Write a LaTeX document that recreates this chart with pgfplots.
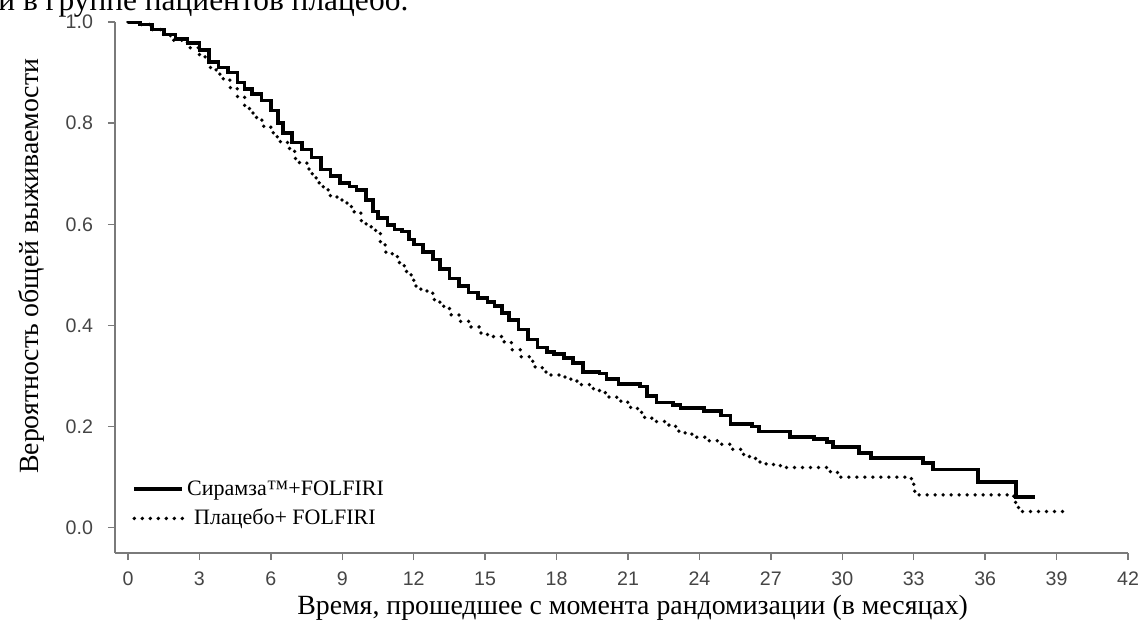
\documentclass[border=0pt]{standalone}
\usepackage{fontspec}
\setmainfont{Liberation Serif}
\setsansfont{Liberation Sans}
\usepackage{pgfplots}
\pgfplotsset{compat=1.18}

\definecolor{axisgray}{HTML}{7A7A7A}
\definecolor{ticktext}{HTML}{454545}

\begin{document}
\begin{tikzpicture}[x=1pt,y=1pt]
\useasboundingbox (0,0) rectangle (571.5,316.5);
% last line of the running text above the figure
\node[anchor=base west, inner sep=0pt, font=\fontsize{15.7}{17}\selectfont] at (-1,311) {и в группе пациентов плацебо.};
\begin{axis}[
  at={(57.5pt,40pt)}, anchor=south west,
  scale only axis, width=506.5pt, height=265.5pt,
  xmin=-0.546, xmax=42, ymin=-0.05, ymax=1,
  axis x line*=bottom, axis y line*=left,
  axis line style={draw=axisgray, line width=0.8pt},
  xtick={0,3,6,9,12,15,18,21,24,27,30,33,36,39,42},
  xticklabels={0,3,6,9,12,15,18,21,24,27,30,33,36,39,42},
  ytick={0,0.2,0.4,0.6,0.8,1.0},
  yticklabels={0.0,0.2,0.4,0.6,0.8,1.0},
  tick align=outside, major tick length=3.5pt,
  tick style={draw=axisgray, line width=0.7pt},
  ticklabel style={font=\sffamily\fontsize{9.8}{10}\selectfont, text=ticktext},
  yticklabel style={xshift=-4pt},
  xticklabel style={anchor=north, yshift=-2.2pt, text height=7pt, text depth=0pt},
  xlabel={Время, прошедшее с момента рандомизации (в месяцах)},
  ylabel={Вероятность общей выживаемости},
  label style={font=\fontsize{13.9}{15}\selectfont},
  xlabel style={at={(axis description cs:0.511,0)}, anchor=base, yshift=-30.5pt},
  ylabel style={at={(axis description cs:0,0.540)}, anchor=base, yshift=38.5pt},
  legend style={draw=none, fill=none, at={(axis description cs:0.0168,0.092)}, anchor=west,
    font=\fontsize{11}{12}\selectfont, inner sep=0pt, row sep=2.5pt,
    nodes={inner sep=1.5pt}},
  legend cell align=left,
  legend image code/.code={\draw[#1] (0pt,0pt) -- (24pt,0pt);},
]
% Сирамза + FOLFIRI
\addplot[const plot, black, line width=1.8pt] coordinates {
(0,1.000) (0.5,0.995) (1.0,0.985) (1.5,0.975) (2.0,0.966) (2.5,0.958)
(3.0,0.945) (3.4,0.921) (3.8,0.910) (4.2,0.900) (4.6,0.880) (4.9,0.868)
(5.2,0.858) (5.6,0.845) (6.0,0.825) (6.3,0.800) (6.5,0.780) (6.9,0.762)
(7.3,0.748) (7.7,0.732) (8.1,0.708) (8.5,0.695) (8.9,0.682) (9.3,0.675)
(9.6,0.668) (10.0,0.648) (10.3,0.625) (10.5,0.612) (10.9,0.598) (11.2,0.590)
(11.5,0.586) (11.8,0.570) (12.0,0.560) (12.4,0.545) (12.8,0.530) (13.1,0.512)
(13.5,0.493) (13.9,0.478) (14.3,0.465) (14.7,0.454) (15.1,0.446) (15.4,0.438)
(15.7,0.425) (16.0,0.411) (16.4,0.392) (16.8,0.372) (17.2,0.356) (17.6,0.348)
(17.9,0.344) (18.3,0.336) (18.7,0.326) (19.1,0.308) (19.8,0.305) (20.1,0.294)
(20.6,0.284) (21.5,0.279) (21.8,0.260) (22.2,0.248) (22.9,0.243) (23.2,0.237)
(24.2,0.231) (24.9,0.222) (25.3,0.205) (26.2,0.200) (26.5,0.190) (27.8,0.179)
(28.8,0.176) (29.35,0.170) (29.6,0.160) (30.7,0.148) (31.2,0.138) (33.4,0.128)
(33.8,0.115) (35.7,0.091) (37.3,0.061) (38.1,0.061)
};
\addlegendentry{Сирамза™+FOLFIRI}
% Плацебо + FOLFIRI
\addplot[const plot, black, line width=1.9pt, line cap=round, dash pattern=on 0pt off 4pt] coordinates {
(0,1.000) (0.5,0.995) (1.0,0.985) (1.5,0.973) (1.9,0.964) (2.5,0.949)
(3.0,0.931) (3.4,0.910) (3.7,0.897) (4.0,0.885) (4.3,0.868) (4.6,0.852)
(4.9,0.835) (5.1,0.820) (5.4,0.806) (5.7,0.792) (6.1,0.773) (6.4,0.762)
(6.7,0.750) (7.0,0.730) (7.2,0.721) (7.6,0.700) (7.9,0.682) (8.2,0.668)
(8.5,0.654) (8.9,0.648) (9.2,0.635) (9.5,0.622) (9.8,0.605) (10.0,0.595)
(10.4,0.583) (10.6,0.565) (10.8,0.545) (11.1,0.536) (11.4,0.518) (11.7,0.500)
(12.0,0.478) (12.3,0.468) (12.8,0.451) (13.1,0.438) (13.5,0.421) (13.9,0.408)
(14.4,0.397) (14.8,0.385) (15.1,0.378) (15.8,0.366) (16.1,0.352) (16.5,0.338)
(17.0,0.318) (17.4,0.308) (17.7,0.302) (18.3,0.298) (18.6,0.290) (19.0,0.283)
(19.4,0.275) (19.8,0.267) (20.2,0.258) (20.7,0.248) (21.0,0.238) (21.4,0.228)
(21.7,0.218) (22.0,0.210) (22.6,0.203) (23.0,0.191) (23.4,0.185) (23.8,0.179)
(24.4,0.172) (24.9,0.165) (25.4,0.155) (25.8,0.145) (26.1,0.137) (26.5,0.130)
(26.8,0.125) (27.4,0.119) (29.5,0.110) (29.8,0.100) (32.9,0.090) (33.0,0.072)
(33.2,0.065) (37.2,0.050) (37.3,0.040) (37.4,0.032) (39.3,0.032)
};
\addlegendentry{\hspace{3.5pt}Плацебо+ FOLFIRI}
\end{axis}
\end{tikzpicture}
\end{document}
